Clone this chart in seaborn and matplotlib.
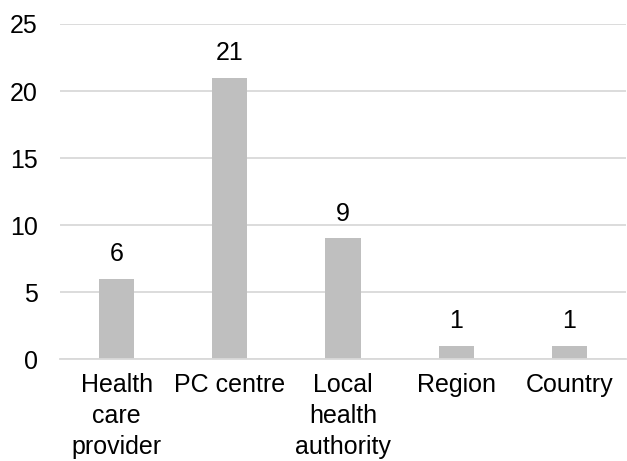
import matplotlib
matplotlib.use("Agg")
import matplotlib.pyplot as plt
import seaborn as sns
import pandas as pd

categories = ["Health\ncare\nprovider", "PC centre", "Local\nhealth\nauthority", "Region", "Country"]
values = [6, 21, 9, 1, 1]
yticks = [0, 5, 10, 15, 20, 25]

sns.set_style("white")
plt.rcParams["font.family"] = ["Liberation Sans", "DejaVu Sans"]

df = pd.DataFrame({"cat": categories, "val": values})
fig = plt.figure(figsize=(6.27, 4.61), dpi=100)
ax = fig.add_axes([0.096, 0.221, 0.902, 0.727])
sns.barplot(data=df, x="cat", y="val", color="#BFBFBF", width=0.31, ax=ax,
            saturation=1, linewidth=0)

ax.set_ylim(0, 25)
ax.set_yticks(yticks)
ax.yaxis.grid(True, color="#D9D9D9", linewidth=1.3)
ax.set_axisbelow(True)
for s in ["top", "right", "left"]:
    ax.spines[s].set_visible(False)
ax.spines["bottom"].set_color("#D9D9D9")
ax.spines["bottom"].set_linewidth(1.3)
ax.set_xlabel("")
ax.set_ylabel("")
ax.tick_params(axis="both", length=0, labelsize=18, colors="black")
ax.tick_params(axis="y", pad=16)
ax.tick_params(axis="x", pad=10)
for lbl in ax.get_xticklabels():
    lbl.set_linespacing(1.38)
for c in ax.containers:
    ax.bar_label(c, labels=[str(v) for v in values], padding=9, fontsize=18, color="black")

fig.savefig("out.png", dpi=100)
